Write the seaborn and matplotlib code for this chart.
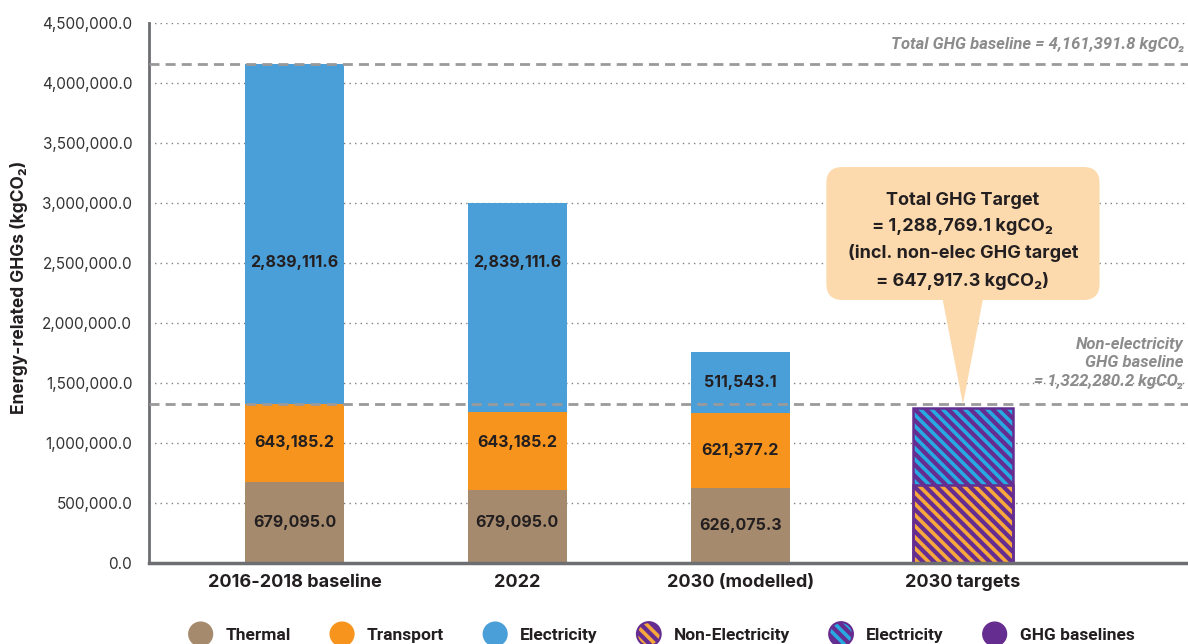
import numpy as np
import pandas as pd
import matplotlib
matplotlib.use("Agg")
import matplotlib.pyplot as plt
import matplotlib.patches as mpatches
from matplotlib.legend_handler import HandlerPatch
from matplotlib.ticker import FuncFormatter
import seaborn as sns

# Data
periods = ["2016-2018 baseline", "2022", "2030 (modelled)", "2030 targets"]
thermal = [679095.0, 608300.0, 626075.3, np.nan]
transport = [643185.2, 652500.0, 621377.2, np.nan]
electricity = [2839111.6, 1736700.0, 511543.1, np.nan]
target_non_elec = [np.nan, np.nan, np.nan, 647917.3]
target_elec = [np.nan, np.nan, np.nan, 640851.8]

# numbers printed on the bars (2022 repeats the baseline numbers)
thermal_lbl = [679095.0, 679095.0, 626075.3]
transport_lbl = [643185.2, 643185.2, 621377.2]
electricity_lbl = [2839111.6, 2839111.6, 511543.1]

total_baseline = 4161391.8
non_elec_baseline = 1322280.2
total_target = 1288769.1

# colours
c_thermal = "#A68A6D"
c_transport = "#F7941D"
c_elec = "#4B9FD8"
c_purple = "#662D91"
c_hatch_orange = "#F8A83B"
c_hatch_blue = "#27AAE1"
c_callout = "#FDDAAE"
c_dash = "#9A9A9A"
c_note = "#8C8C8C"
c_text = "#231F20"

HATCH = "\\\\\\"

sns.set_theme(style="white")
plt.rcParams["font.family"] = ["Inter", "DejaVu Sans"]
plt.rcParams["hatch.linewidth"] = 2.6

df = pd.DataFrame({
    "period": periods,
    "thermal": thermal,
    "transport": transport,
    "electricity": electricity,
    "t_non_elec": target_non_elec,
    "t_elec": target_elec,
})
df["transport_top"] = df["thermal"] + df["transport"]
df["elec_top"] = df["transport_top"] + df["electricity"]
df["target_top"] = df["t_non_elec"] + df["t_elec"]

fig = plt.figure(figsize=(11.88, 6.44), dpi=100)
ax = fig.add_axes([149 / 1188, 1 - 563 / 644, 1 - 149 / 1188, 540 / 644])

bw = 0.445
common = dict(data=df, x="period", order=periods, width=bw, errorbar=None,
              saturation=1, ax=ax, zorder=2)

# stacked bars drawn from the top total down
sns.barplot(y="elec_top", color=c_elec, linewidth=0, **common)
sns.barplot(y="transport_top", color=c_transport, linewidth=0, **common)
sns.barplot(y="thermal", color=c_thermal, linewidth=0, **common)

# hatched target bar
sns.barplot(y="target_top", facecolor=c_purple, edgecolor=c_hatch_blue,
            hatch=HATCH, linewidth=0, **common)
sns.barplot(y="t_non_elec", facecolor=c_purple, edgecolor=c_hatch_orange,
            hatch=HATCH, linewidth=0, **common)
sns.barplot(y="target_top", facecolor="none", edgecolor=c_purple,
            linewidth=1.8, **common)
sns.barplot(y="t_non_elec", facecolor="none", edgecolor=c_purple,
            linewidth=1.8, **common)

ax.set_xlim(-0.653, 4.01)
ax.set_ylim(0, 4.5e6)
ax.set_yticks(np.arange(0, 4.5e6 + 1, 5e5))
ax.yaxis.set_major_formatter(FuncFormatter(lambda v, p: f"{v:,.1f}"))
ax.set_axisbelow(True)
ax.yaxis.grid(True, color="#808080", lw=1, linestyle=(0, (1, 3)))
ax.xaxis.grid(False)
ax.set_xlabel("")
ax.set_ylabel("")

ax.tick_params(axis="y", length=0, pad=12, labelsize=11, labelcolor="#333333")
ax.tick_params(axis="x", length=0, pad=8, labelsize=13, labelcolor=c_text)
for t in ax.get_xticklabels():
    t.set_fontweight("bold")

for s in ["top", "right"]:
    ax.spines[s].set_visible(False)
ax.spines["left"].set_color("#6D6E71")
ax.spines["left"].set_linewidth(2)
ax.spines["bottom"].set_color("#6D6E71")
ax.spines["bottom"].set_linewidth(2.5)

# value labels
for i in range(3):
    bottoms = [0, thermal_lbl[i], thermal_lbl[i] + transport_lbl[i]]
    for val, b in zip([thermal_lbl[i], transport_lbl[i], electricity_lbl[i]], bottoms):
        ax.text(i, min(b + val / 2, 2.5e6), f"{val:,.1f}", ha="center", va="center",
                fontsize=11.5, fontweight="bold", color=c_text, zorder=6)

# baselines
dash = (0, (3.6, 2.2))
ax.axhline(total_baseline, color=c_dash, lw=2, ls=dash, zorder=3)
ax.axhline(non_elec_baseline, color=c_dash, lw=2, ls=dash, zorder=3)

note_font = ["Roboto", "DejaVu Sans"]
ax.text(3.997, 4.317e6, f"Total GHG baseline = {total_baseline:,.1f} kgCO₂",
        ha="right", va="center", fontsize=12, fontweight="bold", style="italic",
        color=c_note, family=note_font, zorder=4)
ax.text(3.99, 1.667e6,
        f"Non-electricity\nGHG baseline\n= {non_elec_baseline:,.1f} kgCO₂",
        ha="right", va="center", ma="right", fontsize=12, fontweight="bold",
        style="italic", color=c_note, family=note_font, linespacing=1.3, zorder=4)

# callout
aspect = (1e6 / 120) * 222.8
box = mpatches.FancyBboxPatch((3 - 0.613, 2.192e6), 1.226, 1.108e6,
                              boxstyle="round,pad=0,rounding_size=0.072",
                              mutation_aspect=aspect, fc=c_callout, ec="none", zorder=5)
ax.add_patch(box)
pointer = mpatches.Polygon([(2.898, 2.3e6), (3.1, 2.3e6), (3, non_elec_baseline)],
                           closed=True, fc=c_callout, ec="none", zorder=5)
ax.add_patch(pointer)
ax.text(3, 2.685e6,
        f"Total GHG Target\n= {total_target:,.1f} kgCO₂\n"
        f"(incl. non-elec GHG target\n= {target_non_elec[3]:,.1f} kgCO₂)",
        ha="center", va="center", ma="center", fontsize=13, fontweight="bold",
        color=c_text, linespacing=1.68, zorder=6)

fig.text(0.016, 0.553, "Energy-related GHGs (kgCO₂)", rotation=90, ha="center",
         va="center", fontsize=12.5, fontweight="bold", color=c_text)


# legend with round markers
def circle(legend, orig_handle, xdescent, ydescent, width, height, fontsize):
    r = min(width, height) / 2
    return mpatches.Circle((width / 2 - xdescent, height / 2 - ydescent), r)


def hatched(color):
    return (mpatches.Patch(facecolor=c_purple, edgecolor=color, hatch=HATCH, linewidth=0),
            mpatches.Patch(facecolor="none", edgecolor=c_purple, linewidth=1.5))


handles = [mpatches.Patch(color=c_thermal), mpatches.Patch(color=c_transport),
           mpatches.Patch(color=c_elec), hatched(c_hatch_orange),
           hatched(c_hatch_blue), mpatches.Patch(color=c_purple)]
labels = ["Thermal", "Transport", "Electricity", "Non-Electricity", "Electricity",
          "GHG baselines"]
fs = 12.5
px = fs * 100 / 72
leg = fig.legend(handles, labels, handler_map={mpatches.Patch: HandlerPatch(patch_func=circle)},
                 loc="center", bbox_to_anchor=(0.5556, 0.0155), ncol=6, frameon=False,
                 handlelength=30 / px, handleheight=30 / px, handletextpad=10 / px,
                 columnspacing=36 / px, borderpad=0,
                 prop=dict(family=note_font, weight="bold", size=fs))
for t in leg.get_texts():
    t.set_color(c_text)

fig.savefig("out.png", dpi=100)
